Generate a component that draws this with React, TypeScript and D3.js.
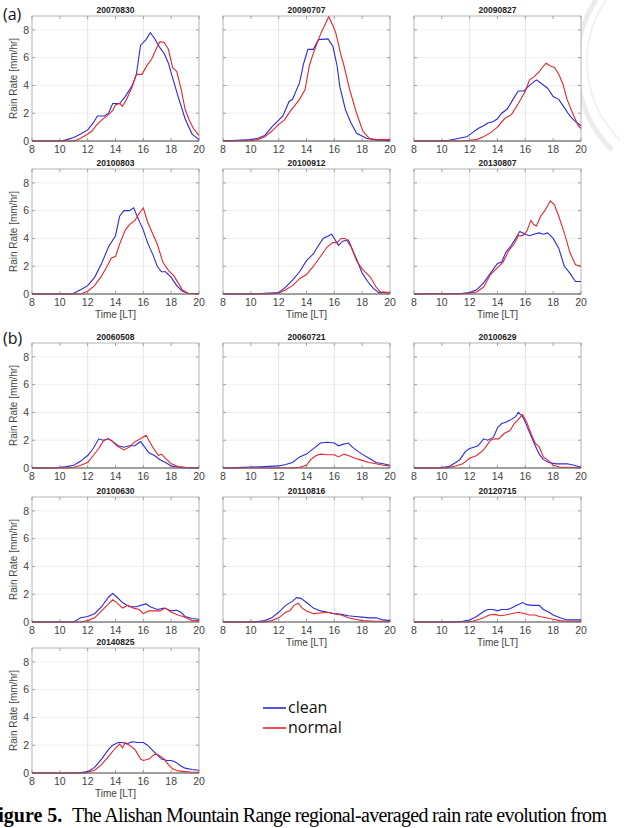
import * as d3 from 'd3';

type Pt = [number, number];

// hour (LT), rain rate [mm/hr]
const clean20070830: Pt[] = [[8,0],[10.1,0],[10.5,0.1],[11,0.25],[11.5,0.5],[12,0.8],[12.4,1.3],[12.7,1.8],[13.2,1.8],[13.5,2.0],[13.8,2.7],[14.3,2.7],[14.7,3.2],[15.2,4.0],[15.5,4.8],[15.8,6.9],[16.2,7.3],[16.5,7.8],[16.8,7.4],[17.2,6.7],[17.5,6.3],[17.8,5.6],[18.0,4.9],[18.5,3.2],[19.0,1.6],[19.5,0.5],[20,0.1]];
const normal20070830: Pt[] = [[8,0],[11,0],[11.5,0.2],[12,0.5],[12.3,0.7],[12.6,1.1],[13,1.5],[13.5,1.9],[13.8,2.2],[14.0,2.6],[14.3,2.7],[14.5,2.5],[14.8,3.0],[15.2,3.9],[15.5,4.8],[15.9,4.8],[16.3,5.5],[16.6,5.9],[17.0,6.8],[17.2,7.15],[17.5,7.1],[17.8,6.6],[18.1,5.3],[18.4,5.0],[18.7,3.8],[19.0,2.3],[19.3,1.5],[19.6,0.9],[20,0.4]];

const clean20090707: Pt[] = [[8,0],[8.7,0.03],[10,0.1],[10.5,0.2],[11,0.4],[11.5,1.0],[12,1.5],[12.3,1.8],[12.75,2.85],[13.0,3.0],[13.5,4.2],[13.8,5.6],[14.1,6.6],[14.5,6.6],[14.85,7.3],[15.55,7.35],[15.9,6.8],[16.2,5.4],[16.4,3.9],[16.8,2.25],[17.2,1.3],[17.6,0.55],[18.3,0.2],[19,0.05],[20,0.03]];
const normal20090707: Pt[] = [[8,0],[9.5,0],[10,0.03],[10.5,0.1],[11,0.3],[11.5,0.7],[12,1.2],[12.4,1.5],[12.8,2.1],[13.5,3.0],[13.9,3.7],[14.2,5.4],[14.5,6.35],[15.05,7.8],[15.6,8.95],[15.9,8.3],[16.1,7.8],[16.5,6.1],[16.7,5.4],[17.1,3.7],[17.6,2.0],[18.05,0.7],[18.5,0.2],[19,0.1],[20,0.1]];

const clean20090827: Pt[] = [[8,0],[10.2,0],[10.5,0.05],[11,0.15],[11.5,0.25],[11.8,0.3],[12.2,0.6],[12.6,0.9],[13,1.1],[13.3,1.3],[13.7,1.4],[14,1.6],[14.3,2.0],[14.7,2.3],[15,2.8],[15.3,3.3],[15.5,3.6],[15.9,3.6],[16.3,4.0],[16.8,4.4],[17.2,4.1],[17.6,3.8],[18,3.2],[18.4,3.0],[18.8,2.4],[19.2,1.8],[19.6,1.4],[20,1.1]];
const normal20090827: Pt[] = [[8,0],[11.5,0],[12,0.05],[12.5,0.1],[13,0.3],[13.5,0.6],[14,1.0],[14.5,1.6],[15,1.9],[15.5,2.7],[16,3.6],[16.3,4.4],[16.6,4.6],[17,5.0],[17.3,5.4],[17.5,5.6],[17.8,5.4],[18.1,5.3],[18.4,4.8],[18.7,4.1],[19,3.0],[19.4,2.0],[19.8,1.1],[20,0.9]];

const clean20100803: Pt[] = [[8,0],[10.8,0],[11,0.05],[11.5,0.3],[12,0.6],[12.5,1.2],[13,2.2],[13.5,3.4],[14,4.2],[14.3,5.6],[14.6,6.0],[15.0,6.0],[15.3,6.2],[15.6,5.5],[16.0,4.6],[16.3,3.7],[16.7,2.8],[17.0,2.0],[17.3,1.6],[17.6,1.6],[18.0,1.2],[18.4,0.6],[18.8,0.2],[19.2,0.05],[20,0]];
const normal20100803: Pt[] = [[8,0],[11.5,0],[12,0.2],[12.5,0.6],[13,1.3],[13.4,2.0],[13.7,2.6],[14.0,2.7],[14.3,3.6],[14.7,4.6],[15.0,5.0],[15.4,5.3],[15.7,5.8],[16.0,6.2],[16.3,5.2],[16.6,4.5],[17.0,3.6],[17.4,2.3],[17.8,1.7],[18.2,1.3],[18.5,0.8],[18.8,0.3],[19.2,0.05],[20,0]];

const clean20100912: Pt[] = [[8,0],[10.5,0],[11,0.05],[12,0.1],[12.5,0.5],[13,1.0],[13.5,1.6],[14,2.4],[14.5,2.9],[14.8,3.4],[15.2,4.0],[15.6,4.2],[15.8,4.3],[16.0,4.0],[16.3,3.5],[16.6,3.8],[17.0,3.9],[17.3,3.2],[17.6,2.5],[18.0,1.5],[18.4,0.9],[18.8,0.4],[19.2,0.1],[20,0.1]];
const normal20100912: Pt[] = [[8,0],[11.5,0],[12,0.05],[12.5,0.3],[13,0.6],[13.5,1.1],[14,1.4],[14.5,2.0],[15,2.7],[15.5,3.4],[15.9,3.7],[16.2,3.7],[16.5,4.0],[16.8,4.0],[17.2,3.4],[17.6,2.4],[18.0,1.8],[18.3,1.5],[18.6,1.2],[19.0,0.5],[19.3,0.15],[20,0.1]];

const clean20130807: Pt[] = [[8,0],[9,0.02],[11,0.02],[11.5,0.05],[12,0.1],[12.5,0.3],[13,0.8],[13.5,1.5],[14,2.2],[14.3,2.3],[14.6,3.0],[15,3.5],[15.3,4.0],[15.6,4.5],[16,4.3],[16.3,4.2],[16.6,4.3],[17,4.4],[17.3,4.3],[17.6,4.4],[18,4.0],[18.4,3.3],[18.8,2.0],[19.2,1.5],[19.6,0.9],[20,0.9]];
const normal20130807: Pt[] = [[8,0],[11.5,0],[12,0.05],[12.5,0.15],[13,0.5],[13.5,1.4],[14,1.9],[14.4,2.3],[14.8,3.1],[15.2,3.6],[15.5,4.2],[15.8,4.2],[16.1,4.5],[16.4,5.3],[16.6,5.0],[16.8,4.9],[17.1,5.6],[17.4,6.0],[17.8,6.7],[18.1,6.4],[18.4,5.6],[18.8,4.4],[19.2,3.0],[19.6,2.1],[20,2.0]];

const clean20060508: Pt[] = [[8,0],[9.8,0],[10,0.05],[10.5,0.1],[11,0.2],[11.5,0.5],[12,0.9],[12.4,1.4],[12.8,2.1],[13.1,2.0],[13.5,2.1],[13.8,1.9],[14.2,1.6],[14.6,1.5],[15.0,1.6],[15.4,1.6],[15.8,1.9],[16.1,1.5],[16.4,1.1],[16.8,0.9],[17.2,0.6],[17.6,0.4],[18.0,0.15],[18.5,0.05],[19,0],[20,0]];
const normal20060508: Pt[] = [[8,0],[10.5,0],[11,0.05],[11.5,0.2],[12,0.4],[12.4,0.9],[12.8,1.4],[13.1,1.9],[13.4,2.1],[13.7,2.0],[14.1,1.6],[14.6,1.3],[15.0,1.5],[15.4,1.9],[15.8,2.1],[16.2,2.35],[16.5,1.8],[16.8,1.3],[17.1,0.9],[17.3,1.0],[17.6,0.7],[18,0.3],[18.5,0.1],[19,0.05],[20,0]];

const clean20060721: Pt[] = [[8,0],[9,0.03],[10,0.07],[11,0.1],[12,0.15],[12.5,0.25],[13,0.4],[13.5,0.8],[14,1.0],[14.5,1.4],[15,1.8],[15.5,1.85],[16,1.8],[16.3,1.6],[16.6,1.7],[17,1.8],[17.3,1.5],[17.7,1.2],[18,1.0],[18.5,0.7],[19,0.4],[19.5,0.3],[20,0.2]];
const normal20060721: Pt[] = [[8,0],[13,0],[13.5,0.05],[14,0.2],[14.3,0.6],[14.7,0.9],[15,1.0],[15.5,0.95],[16,0.95],[16.3,0.8],[16.7,1.0],[17,0.9],[17.5,0.7],[18,0.55],[18.5,0.4],[19,0.3],[19.5,0.2],[20,0.15]];

const clean20100629: Pt[] = [[8,0],[9.8,0],[10,0.03],[10.5,0.1],[11,0.4],[11.3,0.6],[11.7,1.2],[12,1.4],[12.3,1.5],[12.6,1.6],[13.0,2.1],[13.3,2.0],[13.7,2.2],[14,2.9],[14.3,3.2],[14.6,3.3],[15.0,3.5],[15.3,3.7],[15.5,4.0],[15.8,3.7],[16.0,3.3],[16.2,2.8],[16.5,2.1],[16.8,1.4],[17.0,1.0],[17.3,0.6],[17.7,0.4],[18.2,0.3],[18.6,0.3],[19,0.3],[19.5,0.2],[20,0.05]];
const normal20100629: Pt[] = [[8,0],[10.3,0],[10.5,0.05],[11,0.15],[11.5,0.3],[12,0.7],[12.5,0.9],[13,1.3],[13.5,2.0],[13.8,2.1],[14.1,2.1],[14.5,2.5],[14.9,2.7],[15.2,3.2],[15.5,3.5],[15.8,3.85],[16.1,3.3],[16.4,2.5],[16.7,1.8],[17.0,1.5],[17.3,0.8],[17.7,0.5],[18,0.2],[18.5,0.05],[19,0.05],[20,0]];

const clean20100630: Pt[] = [[8,0],[11,0],[11.5,0.3],[12,0.4],[12.5,0.6],[13,1.1],[13.5,1.8],[13.8,2.05],[14.1,1.8],[14.5,1.4],[15,1.1],[15.5,1.1],[16,1.25],[16.2,1.3],[16.5,1.1],[17,0.9],[17.5,1.0],[18,0.8],[18.4,0.85],[18.7,0.7],[19,0.4],[19.5,0.25],[20,0.2]];
const normal20100630: Pt[] = [[8,0],[11.5,0],[12,0.1],[12.5,0.3],[13,0.8],[13.5,1.3],[13.8,1.6],[14.1,1.4],[14.5,1.0],[14.9,1.2],[15.3,1.0],[15.7,0.9],[16,0.6],[16.4,0.8],[16.8,0.8],[17.2,0.8],[17.6,1.0],[18,0.7],[18.5,0.5],[19,0.35],[19.5,0.1],[20,0.1]];

const clean20110816: Pt[] = [[8,0],[10,0],[10.5,0.03],[11,0.1],[11.5,0.3],[12,0.7],[12.5,1.2],[13,1.5],[13.3,1.75],[13.6,1.7],[14,1.4],[14.5,1.0],[15,0.8],[15.5,0.7],[16,0.6],[16.5,0.55],[17,0.45],[17.5,0.4],[18,0.35],[18.5,0.3],[19,0.3],[19.5,0.15],[20,0.1]];
const normal20110816: Pt[] = [[8,0],[11,0],[11.5,0.1],[12,0.3],[12.5,0.7],[12.8,0.8],[13.1,1.2],[13.4,1.35],[13.7,1.0],[14,0.8],[14.5,0.6],[15,0.65],[15.5,0.7],[16,0.6],[16.5,0.5],[17,0.3],[17.5,0.2],[18,0.1],[19,0.05],[20,0.05]];

const clean20120715: Pt[] = [[8,0],[11,0],[11.5,0.05],[12,0.15],[12.5,0.4],[13,0.75],[13.3,0.9],[13.7,0.9],[14,0.8],[14.3,0.9],[14.7,0.9],[15,1.0],[15.4,1.2],[15.8,1.4],[16.1,1.25],[16.5,1.2],[17,1.2],[17.3,0.9],[17.7,0.7],[18,0.5],[18.5,0.3],[19,0.15],[19.5,0.15],[20,0.15]];
const normal20120715: Pt[] = [[8,0],[11.8,0],[12.2,0.05],[12.7,0.2],[13,0.3],[13.4,0.5],[13.8,0.55],[14.2,0.45],[14.6,0.5],[15,0.6],[15.5,0.7],[16,0.6],[16.3,0.5],[16.7,0.5],[17,0.4],[17.5,0.3],[18,0.2],[18.5,0.1],[19,0.05],[20,0.05]];

const clean20140825: Pt[] = [[8,0],[11.3,0],[11.5,0.03],[12,0.1],[12.5,0.4],[13,1.0],[13.5,1.7],[13.8,2.0],[14.2,2.2],[14.5,2.2],[14.8,2.1],[15.2,2.25],[15.6,2.2],[16,2.2],[16.3,2.0],[16.7,1.6],[17.0,1.3],[17.3,1.0],[17.7,0.9],[18.0,0.9],[18.3,0.8],[18.7,0.5],[19.0,0.35],[19.5,0.25],[20,0.2]];
const normal20140825: Pt[] = [[8,0],[11.8,0],[12,0.05],[12.5,0.2],[13,0.6],[13.5,1.2],[14,1.8],[14.3,2.1],[14.5,1.8],[14.7,2.2],[15.0,2.0],[15.4,1.7],[15.8,1.0],[16.0,0.9],[16.4,1.0],[16.8,1.35],[17.1,1.3],[17.5,1.0],[17.8,0.6],[18.1,0.3],[18.5,0.15],[19,0.1],[19.5,0.05],[20,0.05]];

const xTicks = [8, 10, 12, 14, 16, 18, 20];
const yTicks = [0, 2, 4, 6, 8];
const xGrid = [12, 16];
const seriesNames = ['clean', 'normal'];
const seriesColors = ['#2b2bdc', '#e8252e'];

const panels = [
  { title: '20070830', row: 0, col: 0, clean: clean20070830, normal: normal20070830, xlab: false },
  { title: '20090707', row: 0, col: 1, clean: clean20090707, normal: normal20090707, xlab: false },
  { title: '20090827', row: 0, col: 2, clean: clean20090827, normal: normal20090827, xlab: false },
  { title: '20100803', row: 1, col: 0, clean: clean20100803, normal: normal20100803, xlab: true },
  { title: '20100912', row: 1, col: 1, clean: clean20100912, normal: normal20100912, xlab: true },
  { title: '20130807', row: 1, col: 2, clean: clean20130807, normal: normal20130807, xlab: true },
  { title: '20060508', row: 2, col: 0, clean: clean20060508, normal: normal20060508, xlab: false },
  { title: '20060721', row: 2, col: 1, clean: clean20060721, normal: normal20060721, xlab: false },
  { title: '20100629', row: 2, col: 2, clean: clean20100629, normal: normal20100629, xlab: false },
  { title: '20100630', row: 3, col: 0, clean: clean20100630, normal: normal20100630, xlab: false },
  { title: '20110816', row: 3, col: 1, clean: clean20110816, normal: normal20110816, xlab: true },
  { title: '20120715', row: 3, col: 2, clean: clean20120715, normal: normal20120715, xlab: true },
  { title: '20140825', row: 4, col: 0, clean: clean20140825, normal: normal20140825, xlab: true },
];

const colLeft = [32, 223, 414];
const rowTop = [16, 169, 343, 497, 648];
const PW = 167;
const PH = 125;
const FONT = '"Liberation Sans", Arial, sans-serif';

function Panel({ p }: { p: (typeof panels)[number] }) {
  const x = d3.scaleLinear().domain([8, 20]).range([0, PW]);
  const y = d3.scaleLinear().domain([0, 9]).range([PH, 0]);
  const line = d3.line<Pt>().x((d) => x(d[0])).y((d) => y(d[1]));
  const tk = 3;
  return (
    <g transform={`translate(${colLeft[p.col]},${rowTop[p.row]})`}>
      <rect width={PW} height={PH} fill="#fff" />
      {yTicks.filter((v) => v > 0).map((v) => (
        <line key={'gy' + v} x1={0} x2={PW} y1={y(v)} y2={y(v)} stroke="#ececec" strokeWidth={0.8} />
      ))}
      {xGrid.map((v) => (
        <line key={'gx' + v} x1={x(v)} x2={x(v)} y1={0} y2={PH} stroke="#dedede" strokeWidth={0.8} />
      ))}
      {xTicks.map((v) => (
        <g key={'tx' + v} stroke="#8a8a8a" strokeWidth={0.8}>
          <line x1={x(v)} x2={x(v)} y1={PH} y2={PH - tk} />
          <line x1={x(v)} x2={x(v)} y1={0} y2={tk} />
        </g>
      ))}
      {yTicks.map((v) => (
        <g key={'ty' + v} stroke="#8a8a8a" strokeWidth={0.8}>
          <line x1={0} x2={tk} y1={y(v)} y2={y(v)} />
          <line x1={PW} x2={PW - tk} y1={y(v)} y2={y(v)} />
        </g>
      ))}
      <rect width={PW} height={PH} fill="none" stroke="#a0a0a0" strokeWidth={0.8} />
      <path d={line(p.clean) ?? ''} fill="none" stroke={seriesColors[0]} strokeWidth={1.1} />
      <path d={line(p.normal) ?? ''} fill="none" stroke={seriesColors[1]} strokeWidth={1.1} />
      <line x1={0} x2={PW} y1={PH} y2={PH} stroke="#666" strokeWidth={1} />
      <text x={PW / 2} y={-3} textAnchor="middle" fontFamily={FONT} fontSize={8.5} fontWeight="bold" fill="#222">
        {p.title}
      </text>
      {xTicks.map((v) => (
        <text key={'lx' + v} x={x(v)} y={PH + 12} textAnchor="middle" fontFamily={FONT} fontSize={10.5} fill="#444">
          {v}
        </text>
      ))}
      {p.col === 0 &&
        yTicks.map((v) => (
          <text key={'ly' + v} x={-3} y={y(v)} dy="0.36em" textAnchor="end" fontFamily={FONT} fontSize={10.5} fill="#444">
            {v}
          </text>
        ))}
      {p.col === 0 && (
        <text transform={`translate(-15,${PH / 2}) rotate(-90)`} textAnchor="middle" fontFamily={FONT} fontSize={10} fill="#444">
          Rain Rate [mm/hr]
        </text>
      )}
      {p.xlab && (
        <text x={PW / 2} y={PH + 24} textAnchor="middle" fontFamily={FONT} fontSize={10} fill="#444">
          Time [LT]
        </text>
      )}
    </g>
  );
}

export default function App() {
  return (
    <svg
      width={631}
      height={828}
      viewBox="0 0 631 828"
      style={{ position: 'absolute', left: 0, top: 0, background: '#fff' }}
    >
      <rect width={631} height={828} fill="#fff" />
      {/* faint seal watermark */}
      <path d="M596,0 A120,120 0 0,0 612,150" fill="none" stroke="#ececec" strokeWidth={5} />
      <path d="M606,0 A110,110 0 0,0 620,140" fill="none" stroke="#f2f2f2" strokeWidth={2} />
      <text x={3} y={20} fontFamily='"Open Sans", sans-serif' fontSize={16} fill="#111">(a)</text>
      <text x={3} y={344} fontFamily='"Open Sans", sans-serif' fontSize={16} fill="#111">(b)</text>
      {panels.map((p) => (
        <Panel key={p.title} p={p} />
      ))}
      {seriesNames.map((name, i) => (
        <g key={name} transform={`translate(263,${708 + i * 20})`}>
          <line x1={0} x2={23} y1={0} y2={0} stroke={seriesColors[i]} strokeWidth={1.6} />
          <text x={25} y={0} dy="0.33em" fontFamily='"Open Sans", sans-serif' fontSize={16} fill="#111">
            {name}
          </text>
        </g>
      ))}
      <text y={822} fontFamily='"Liberation Serif", "Times New Roman", serif' fontSize={20} fill="#000">
        <tspan x={-14} fontWeight="bold">Figure 5.</tspan>
        <tspan x={72} textLength={535} lengthAdjust="spacing">
          The Alishan Mountain Range regional-averaged rain rate evolution from
        </tspan>
      </text>
    </svg>
  );
}
